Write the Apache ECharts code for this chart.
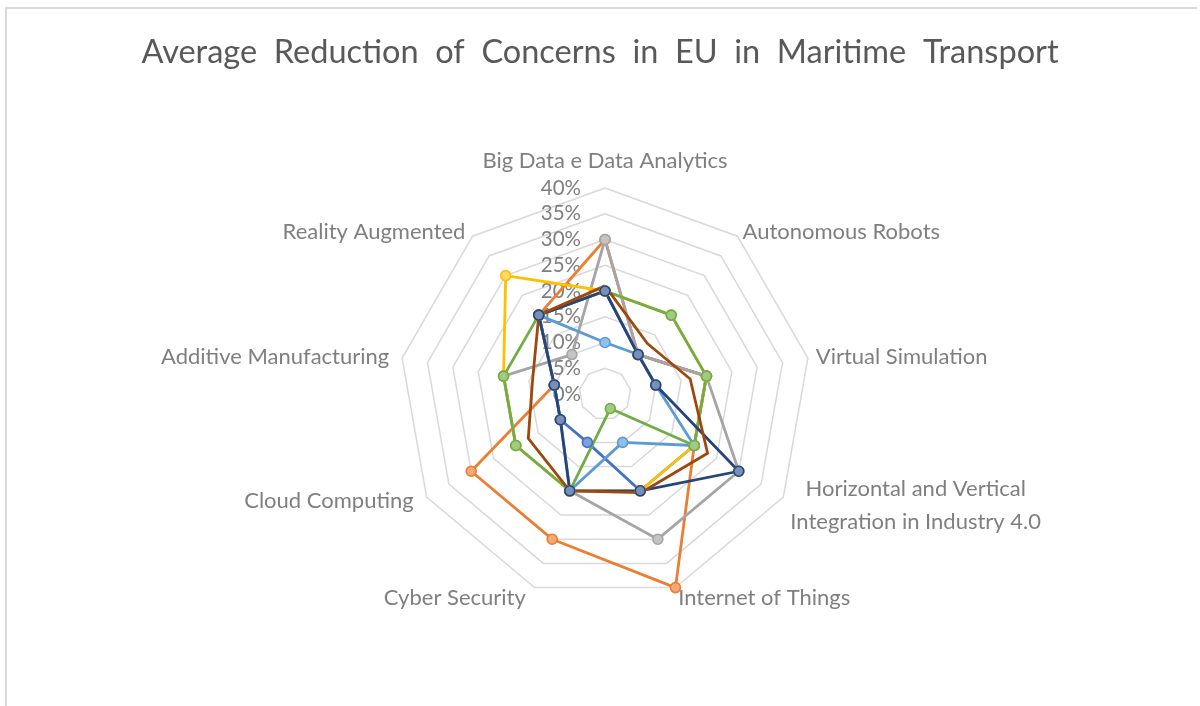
<!DOCTYPE html>
<html>
<head>
<meta charset="utf-8">
<title>Average Reduction of Concerns in EU in Maritime Transport</title>
<script src="https://cdn.jsdelivr.net/npm/echarts@6/dist/echarts.min.js"></script>
<style>
  html, body { margin: 0; padding: 0; background: #ffffff; }
  #frame {
    position: absolute; left: 5px; top: 7px; width: 1192px; height: 699px;
    border-left: 2px solid #d9d9d9; border-top: 2px solid #d9d9d9;
    box-sizing: border-box;
  }
  #chart { position: absolute; left: 0; top: 0; width: 1200px; height: 706px; }
</style>
</head>
<body>
<div id="frame"></div>
<div id="chart"></div>
<script>
// Technology categories, clockwise from the top
const categories = [
  'Big Data e Data Analytics',
  'Autonomous Robots',
  'Virtual Simulation',
  'Horizontal and Vertical\nIntegration in Industry 4.0',
  'Internet of Things',
  'Cyber Security',
  'Cloud Computing',
  'Additive Manufacturing',
  'Reality Augmented'
];

// Radial scale (percent)
const axisMax = 40;
const axisStep = 5;

// Reduction of concerns per group, in percent, same order as categories
const group1 = [20, 10, 20, 20, 20, 10, 10, 10, 20];
const group2 = [30, 10, 20, 20, 40, 30, 30, 10, 20];
const group3 = [30, 10, 20, 30, 30, 20, 20, 20, 10];
const group4 = [20, 20, 20, 20, 20, 20, 20, 20, 30];
const group5 = [10, 10, 10, 20, 10, 20, 10, 10, 20];
const group6 = [20, 20, 20, 20, 3, 20, 20, 20, 20];
const group7 = [20, 10, 10, 30, 20, 20, 10, 10, 20];
const average = [21, 12.8, 16.8, 23, 20.4, 20, 17.2, 14.3, 20];

const seriesDefs = [
  { name: 'Group 1', values: group1, color: '#4472C4', fill: '#7f9fdc', marker: true },
  { name: 'Group 2', values: group2, color: '#ED7D31', fill: '#f4a877', marker: true },
  { name: 'Group 3', values: group3, color: '#A5A5A5', fill: '#c4c4c4', marker: true },
  { name: 'Group 4', values: group4, color: '#FFC000', fill: '#ffd866', marker: true },
  { name: 'Group 5', values: group5, color: '#5B9BD5', fill: '#93bfe6', marker: true },
  { name: 'Group 6', values: group6, color: '#70AD47', fill: '#9fcc81', marker: true },
  { name: 'Group 7', values: group7, color: '#264478', fill: '#7a8fb8', marker: true },
  { name: 'Average', values: average, color: '#9E480E', fill: '#9E480E', marker: false }
];

const FONT = 'Lato, "Open Sans", sans-serif';
const LABEL_COLOR = '#7f7f7f';
const NAME_SIZE = 22;

// Extra padding around some category names, keyed by category index
const namePadding = {
  1: [4, 0, 0, 0],
  3: [8, 0, 0, 0],
  4: [6, 0, 0, 0],
  5: [6, 6, 0, 0],
  6: [0, 6, 0, 0],
  7: [0, 5, 0, 0],
  8: [4, 2, 0, 0]
};

// ECharts lays radar indicators out counter-clockwise; feed them in reverse
// (keeping the first on top) so the categories run clockwise.
const order = categories.map(function (_, i) { return i === 0 ? 0 : categories.length - i; });

const chart = echarts.init(document.getElementById('chart'), null, { renderer: 'canvas' });

const indicator = order.map(function (idx) {
  const ind = { name: categories[idx], min: 0, max: axisMax };
  if (idx === 0) {
    ind.axisLabel = {
      show: true,
      formatter: function (v) { return v + '%'; },
      color: LABEL_COLOR,
      fontSize: 20.5,
      fontFamily: FONT,
      margin: 24,
      showMinLabel: true,
      showMaxLabel: true
    };
    ind.nameGap = 10;
  }
  if (namePadding[idx]) {
    ind.nameTextStyle = { padding: namePadding[idx] };
  }
  return ind;
});

const option = {
  backgroundColor: 'transparent',
  animation: false,
  title: {
    text: 'Average  Reduction  of  Concerns  in  EU  in  Maritime  Transport',
    left: 'center',
    top: 31,
    textStyle: { color: '#595959', fontSize: 32.5, fontWeight: 'normal', fontFamily: FONT }
  },
  radar: {
    center: [605, 394],
    radius: 206,
    startAngle: 90,
    splitNumber: axisMax / axisStep,
    shape: 'polygon',
    indicator: indicator,
    nameGap: 8,
    axisName: {
      color: LABEL_COLOR,
      fontSize: NAME_SIZE,
      fontFamily: FONT,
      lineHeight: 33,
      formatter: function (name) {
        return name.split('\n').map(function (line) { return '{c|' + line + '}'; }).join('\n');
      },
      rich: {
        c: { color: LABEL_COLOR, fontSize: NAME_SIZE, fontFamily: FONT, lineHeight: 33, align: 'center' }
      }
    },
    axisLine: { show: false },
    axisTick: { show: false },
    axisLabel: { show: false },
    splitArea: { show: false },
    splitLine: { lineStyle: { color: '#d9d9d9', width: 1.5 } }
  },
  series: seriesDefs.map(function (s) {
    return {
      type: 'radar',
      name: s.name,
      symbol: s.marker ? 'circle' : 'none',
      symbolSize: 10,
      lineStyle: { color: s.color, width: 2.8 },
      itemStyle: { color: s.fill, borderColor: s.color, borderWidth: 1.6 },
      data: [{ value: order.map(function (idx) { return s.values[idx]; }), name: s.name }]
    };
  })
};

chart.setOption(option);
</script>
</body>
</html>
